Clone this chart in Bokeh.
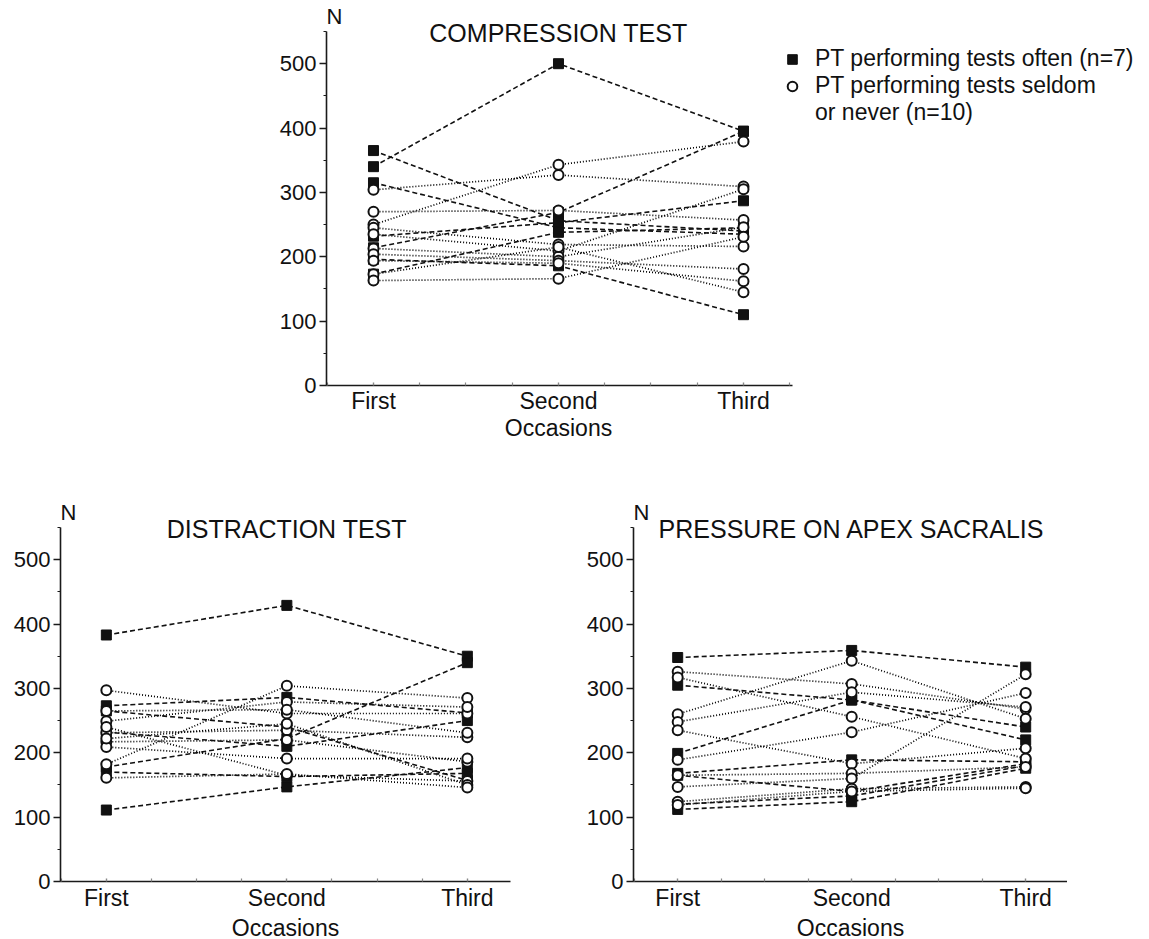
from bokeh.plotting import figure
from bokeh.models import (ColumnDataSource, FixedTicker, Label, Legend, LegendItem,
                          LinearAxis, Range1d, Spacer)
from bokeh.layouts import column, row
from bokeh.embed import file_html
from bokeh.resources import INLINE

# ---------------- data ----------------
occasions = ["First", "Second", "Third"]
x_title = "Occasions"
y_unit = "N"
y_ticks = [0, 100, 200, 300, 400, 500]
y_top = 550
titles = ["COMPRESSION TEST", "DISTRACTION TEST", "PRESSURE ON APEX SACRALIS"]
legend_labels = ["PT performing tests often (n=7)", "PT performing tests seldom", "or never (n=10)"]

# PT performing tests often (n=7): one list per therapist, values at First/Second/Third
compression_often = [
    [340, 500, 395],
    [365, 256, 240],
    [315, 245, 235],
    [232, 253, 287],
    [214, 269, 395],
    [196, 186, 110],
    [173, 238, 245],
]
# PT performing tests seldom or never (n=10)
compression_seldom = [
    [304, 327, 309],
    [250, 343, 379],
    [270, 272, 257],
    [245, 219, 216],
    [235, 209, 305],
    [213, 200, 246],
    [204, 194, 181],
    [194, 190, 162],
    [173, 215, 145],
    [163, 166, 231],
]

distraction_often = [
    [383, 429, 350],
    [111, 147, 177],
    [273, 286, 262],
    [265, 240, 157],
    [178, 222, 340],
    [232, 210, 250],
    [170, 163, 168],
]
distraction_seldom = [
    [297, 261, 261],
    [182, 304, 285],
    [249, 279, 271],
    [231, 235, 224],
    [217, 220, 186],
    [209, 191, 191],
    [265, 267, 231],
    [240, 165, 156],
    [222, 245, 150],
    [161, 167, 146],
]

pressure_often = [
    [348, 359, 333],
    [305, 282, 220],
    [199, 282, 240],
    [168, 189, 186],
    [165, 140, 183],
    [120, 133, 180],
    [112, 124, 176],
]
pressure_seldom = [
    [326, 307, 268],
    [317, 256, 191],
    [260, 343, 253],
    [248, 294, 271],
    [235, 183, 207],
    [189, 232, 293],
    [165, 168, 178],
    [147, 160, 322],
    [124, 144, 147],
    [119, 140, 145],
]

FONT = "Liberation Sans"
AXIS_COLOR = "#1a1a1a"
TEXT_COLOR = "#111111"
FRAME_H = 380
Y_MAX = FRAME_H * 550.0 / 354.0   # same vertical scale as the reference (354 px for 0..550)


def style_axis(ax):
    ax.axis_line_color = AXIS_COLOR
    ax.axis_line_width = 1.6
    ax.major_tick_line_color = AXIS_COLOR
    ax.minor_tick_line_color = AXIS_COLOR
    ax.major_tick_line_width = 1.4
    ax.minor_tick_line_width = 1.2
    ax.major_label_text_font = FONT
    ax.major_label_text_color = TEXT_COLOR
    ax.axis_label_text_font = FONT
    ax.axis_label_text_font_style = "normal"
    ax.axis_label_text_color = TEXT_COLOR


def make_panel(title, often, seldom, px_per_unit, axis_end, frame_width, borders,
               standoffs, legend=False, separate_xtitle=False):
    bl, br, bt, bb = borders
    x_start = -0.254
    x_end = x_start + frame_width / px_per_unit
    p = figure(frame_width=frame_width, frame_height=FRAME_H,
               x_range=Range1d(x_start, x_end), y_range=Range1d(0, Y_MAX),
               min_border_left=bl, min_border_right=br,
               min_border_top=bt, min_border_bottom=bb,
               output_backend="svg", toolbar_location=None, title=None)
    p.outline_line_color = None
    p.xgrid.visible = False
    p.ygrid.visible = False
    p.background_fill_color = "white"
    p.border_fill_color = "white"

    idx = list(range(len(occasions)))
    # lines
    src_s = ColumnDataSource(dict(xs=[idx] * len(seldom), ys=seldom))
    p.multi_line("xs", "ys", source=src_s, line_color="#000000", line_width=1.7,
                 line_dash="1 2")
    src_o = ColumnDataSource(dict(xs=[idx] * len(often), ys=often))
    p.multi_line("xs", "ys", source=src_o, line_color="#111111", line_width=1.6,
                 line_dash="5 3")
    # markers
    ox = [i for _ in often for i in idx]
    oy = [v for s in often for v in s]
    sx = [i for _ in seldom for i in idx]
    sy = [v for s in seldom for v in s]
    r_sq = p.scatter(ox, oy, marker="square", size=10, fill_color="#111111",
                     line_color="#111111", line_width=1)
    r_ci = p.scatter(sx, sy, marker="circle", size=10, fill_color="white",
                     line_color="#111111", line_width=2)

    # axes (bounded so the frame can also hold the titles / legend)
    p.xaxis.bounds = (x_start, axis_end)
    p.yaxis.bounds = (0, y_top)
    p.xaxis.ticker = FixedTicker(ticks=idx,
                                 minor_ticks=[-0.25, 0.25, 0.5, 0.75, 1.25, 1.5, 1.75, 2.25])
    p.xaxis.major_label_overrides = {i: lab for i, lab in enumerate(occasions)}
    p.yaxis.ticker = FixedTicker(ticks=y_ticks, minor_ticks=[t + 50 for t in y_ticks])
    style_axis(p.xaxis[0])
    style_axis(p.yaxis[0])
    p.yaxis.major_tick_out = 7
    p.yaxis.major_tick_in = 0
    p.yaxis.minor_tick_out = 3
    p.yaxis.minor_tick_in = 0
    p.yaxis.major_label_text_font_size = "22px"
    p.yaxis.major_label_standoff = 3
    p.xaxis.major_tick_out = 0
    p.xaxis.major_tick_in = 3
    p.xaxis.minor_tick_out = 0
    p.xaxis.minor_tick_in = 3
    p.xaxis.minor_tick_line_color = "#888888"
    p.xaxis.major_tick_line_color = "#888888"
    p.xaxis.major_label_text_font_size = "23px"
    p.xaxis.major_label_standoff = standoffs[0]

    if separate_xtitle:
        # axis title centred on the "Second" occasion (frame is wider than the axis)
        ax2 = LinearAxis(ticker=FixedTicker(ticks=[1], minor_ticks=[]),
                         major_label_overrides={1: x_title})
        style_axis(ax2)
        ax2.bounds = (x_start, axis_end)
        ax2.axis_line_color = None
        ax2.major_tick_line_color = None
        ax2.minor_tick_line_color = None
        ax2.major_tick_out = 0
        ax2.major_tick_in = 0
        ax2.major_label_text_font_size = "23px"
        try:
            ax2.major_label_standoff = standoffs[1]
        except Exception:
            ax2.major_label_standoff = 0
        p.add_layout(ax2, "below")
    else:
        p.xaxis.axis_label = x_title
        p.xaxis.axis_label_text_font_size = "23px"
        p.xaxis.axis_label_standoff = standoffs[1]

    # "N" unit label and title
    p.add_layout(Label(x=x_start, y=y_top, text=y_unit, text_align="left",
                       text_baseline="bottom", y_offset=3, text_font=FONT,
                       text_font_size="22px", text_color=TEXT_COLOR))
    p.add_layout(Label(x=1, y=y_top, text=title, text_align="center",
                       text_baseline="middle", y_offset=-1, text_font=FONT,
                       text_font_size="25px", text_color=TEXT_COLOR))

    if legend:
        r_blank = p.scatter([], [], marker="circle", size=1, fill_alpha=0, line_alpha=0)
        items = [LegendItem(label=legend_labels[0], renderers=[r_sq]),
                 LegendItem(label=legend_labels[1], renderers=[r_ci]),
                 LegendItem(label=legend_labels[2], renderers=[r_blank])]
        leg = Legend(items=items, location=(454, 259), padding=0, margin=0,
                     spacing=0, glyph_width=24, glyph_height=24, label_height=20,
                     label_standoff=11, border_line_color=None,
                     background_fill_alpha=0, label_text_font=FONT,
                     label_text_font_size="23px", label_text_color=TEXT_COLOR)
        p.add_layout(leg, "center")
    return p


# top panel: frame spans from the y axis to the right edge so it can hold the legend
top = make_panel(titles[0], compression_often, compression_seldom, 185.0, 2.265, 821,
                 (60, 0, 5, 116), (2, -2), legend=True, separate_xtitle=True)
bl = make_panel(titles[1], distraction_often, distraction_seldom, 180.5, 2.238, 450,
                (60, 63, 0, 57), (3, 1))
br = make_panel(titles[2], pressure_often, pressure_seldom, 174.0, 2.241, 434,
                (60, 0, 0, 57), (3, 1))

layout = column(row(Spacer(width=266, height=501), top), row(bl, br))

open("out.html", "w").write(file_html(layout, INLINE))
